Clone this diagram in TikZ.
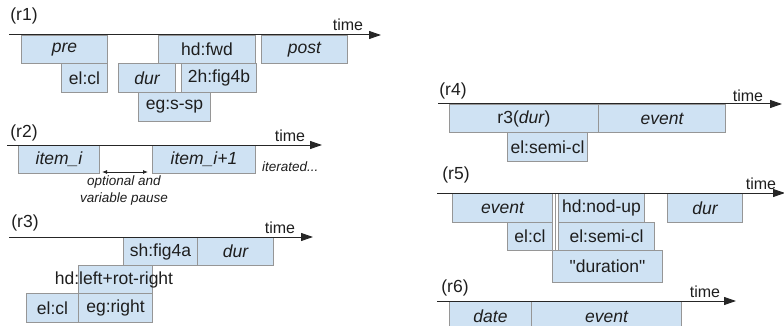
\documentclass[tikz,border=0pt]{standalone}
\usepackage{fontspec}
\setmainfont{Liberation Sans}
\newfontfamily\rawfont{Liberation Sans}
\usetikzlibrary{arrows.meta}
\definecolor{boxfill}{RGB}{207,226,243}
\definecolor{boxline}{RGB}{150,150,150}
\definecolor{txt}{RGB}{30,30,30}
\begin{document}
\begin{tikzpicture}[x=1pt,y=-1pt,
  bx/.style={draw=boxline, fill=boxfill, line width=1pt, inner sep=0pt, anchor=north west,
             font=\fontsize{17.5}{20}\selectfont, text=txt},
  tline/.style={draw=black!85, line width=1pt, -{Triangle[length=12pt,width=8pt]}},
  lab/.style={font=\fontsize{17.5}{20}\selectfont, text=txt, inner sep=0pt},
  tm/.style={font=\fontsize{16}{18}\selectfont, text=txt, inner sep=0pt},
  small/.style={font=\fontsize{13.5}{17}\selectfont\itshape, text=txt, inner sep=0pt},
  pausearrow/.style={draw=black!85, line width=0.8pt, {Latex[length=5pt,width=4pt]}-{Latex[length=5pt,width=4pt]}}]
\useasboundingbox (0,0) rectangle (784,326);

% ---------- (r1)
\node[lab] (r1) at (24,16) {(r1)};
\node[bx, minimum width=86pt, minimum height=28pt] (pre) at (21,35) {\itshape pre};
\node[bx, minimum width=46pt, minimum height=29pt] (elcla) at (61,63) {el:cl};
\node[bx, minimum width=97pt, minimum height=28pt] (hdfwd) at (158,35) {hd:fwd};
\node[bx, minimum width=57pt, minimum height=29pt] (dura) at (118,63) {\itshape dur};
\node[bx, minimum width=75pt, minimum height=29pt] (figb) at (181,63) {2h:fig4b};
\node[bx, minimum width=72pt, minimum height=29pt] (egssp) at (138,92) {eg:s-sp};
\node[bx, minimum width=86pt, minimum height=28pt] (post) at (261,35) {\itshape post};
\coordinate (t1s) at (9,35);
\coordinate (t1e) at (381,35);
\draw[tline] (t1s) -- (t1e);
\node[tm] (time1) at (348,25) {time};

% ---------- (r2)
\node[lab] (r2) at (24,133) {(r2)};
\node[bx, minimum width=81pt, minimum height=28pt] (itemi) at (18,145) {\itshape item\_i};
\node[bx, minimum width=103pt, minimum height=28pt] (itemj) at (152,145) {\itshape item\_i+1};
\coordinate (t2s) at (7,145);
\coordinate (t2e) at (322,145);
\draw[tline] (t2s) -- (t2e);
\node[tm] (time2) at (290,136) {time};
\coordinate (pa) at (102,172);
\coordinate (pb) at (148,172);
\draw[pausearrow] (pa) -- (pb);
\node[small, align=center] (pause) at (124,191) {optional and\\variable pause};
\node[small, anchor=west] (iter) at (262,167) {iterated...};

% ---------- (r3)
\node[lab] (r3) at (25,223) {(r3)};
\node[bx, minimum width=74pt, minimum height=28pt] (figa) at (123,237) {sh:fig4a};
\node[bx, minimum width=76pt, minimum height=28pt] (durc) at (197,237) {\itshape dur};
\node[bx, minimum width=74pt, minimum height=28pt] (hdbox) at (78,265) {};
\node[lab] (hdtext) at (114,280) {hd:left+rot-right};
\node[bx, minimum width=52pt, minimum height=29pt] (elclc) at (26,293) {el:cl};
\node[bx, minimum width=74pt, minimum height=29pt] (egright) at (78,293) {eg:right};
\coordinate (t3s) at (9,237);
\coordinate (t3e) at (313,237);
\draw[tline] (t3s) -- (t3e);
\node[tm] (time3) at (280,228) {time};

% ---------- (r4)
\node[lab] (r4) at (453,91) {(r4)};
\node[bx, minimum width=149pt, minimum height=28pt] (rdur) at (449,104) {r3(\textit{dur})};
\node[bx, minimum width=127pt, minimum height=28pt] (eventd) at (598,104) {\itshape event};
\node[bx, minimum width=80pt, minimum height=29pt] (semid) at (507,132) {el:semi-cl};
\coordinate (t4s) at (438,104);
\coordinate (t4e) at (782,104);
\draw[tline] (t4s) -- (t4e);
\node[tm] (time4) at (748,96) {time};

% ---------- (r5)
\node[lab] (r5) at (456,175) {(r5)};
\node[bx, minimum width=100pt, minimum height=29pt] (evente) at (452,193) {\itshape event};
\node[bx, minimum width=86pt, minimum height=29pt] (hdnod) at (558,193) {hd:nod-up};
\node[bx, minimum width=75pt, minimum height=29pt] (dure) at (667,193) {\itshape dur};
\node[bx, minimum width=45pt, minimum height=28pt] (elcle) at (507,222) {el:cl};
\node[bx, minimum width=96pt, minimum height=28pt] (semie) at (558,222) {el:semi-cl};
\node[bx, minimum width=110pt, minimum height=32pt] (duration) at (552,250) {\rawfont "duration"};
\coordinate (vtop) at (555,193);
\coordinate (vbot) at (555,250);
\draw[draw=boxline, line width=1pt] (vtop) -- (vbot);
\coordinate (t5s) at (437,193);
\coordinate (t5e) at (785,193);
\draw[tline] (t5s) -- (t5e);
\node[tm] (time5) at (761,184) {time};

% ---------- (r6)
\node[lab] (r6) at (455,288) {(r6)};
\node[bx, minimum width=82pt, minimum height=30pt] (date) at (449,301) {\itshape date};
\node[bx, minimum width=150pt, minimum height=30pt] (eventf) at (531,301) {\itshape event};
\coordinate (t6s) at (437,301);
\coordinate (t6e) at (736,301);
\draw[tline] (t6s) -- (t6e);
\node[tm] (time6) at (705,292) {time};
\end{tikzpicture}
\end{document}
